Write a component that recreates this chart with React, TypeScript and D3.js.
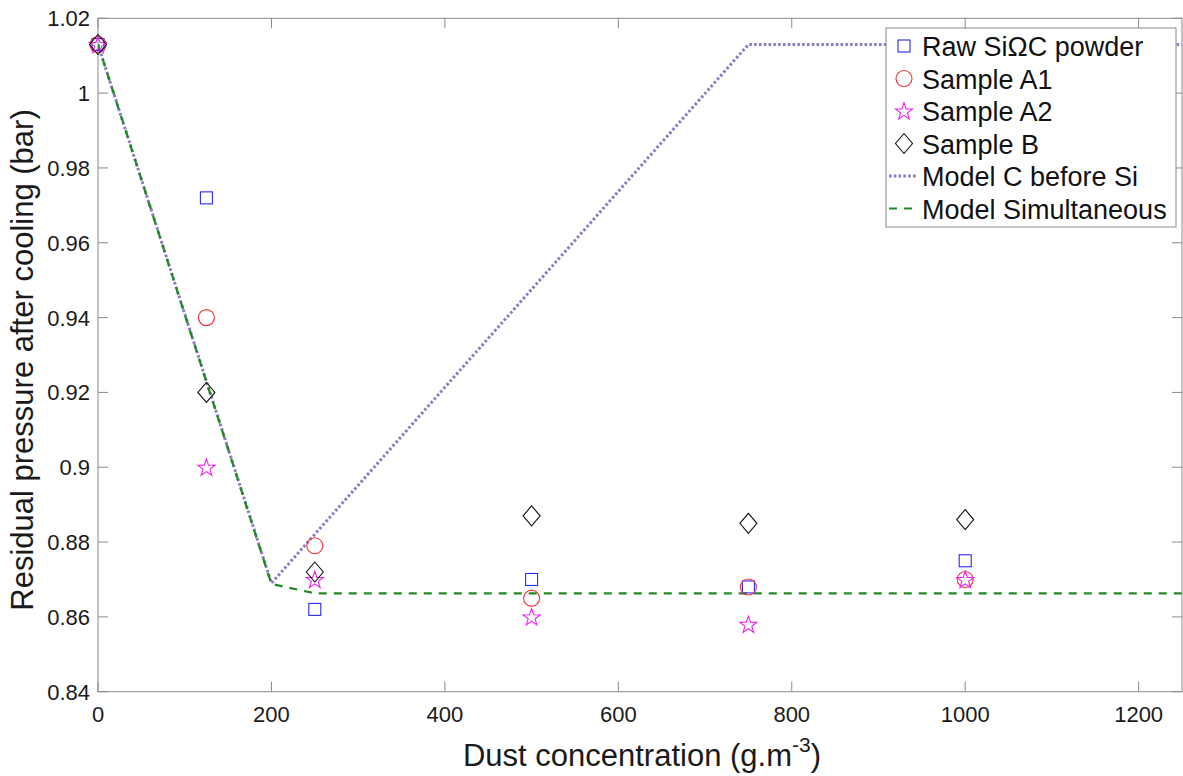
import React from "react";
import * as d3 from "d3";

const xMeasured = [0, 125, 250, 500, 750, 1000];
const rawSiC = [1.013, 0.972, 0.862, 0.870, 0.868, 0.875];
const sampleA1 = [1.013, 0.940, 0.879, 0.865, 0.868, 0.870];
const sampleA2 = [1.013, 0.900, 0.870, 0.860, 0.858, 0.870];
const sampleB = [1.013, 0.920, 0.872, 0.887, 0.885, 0.886];

const modelCX = [0, 200, 750, 1250];
const modelCY = [1.013, 0.869, 1.013, 1.013];
const modelSimX = [0, 200, 250, 1250];
const modelSimY = [1.013, 0.8688, 0.8663, 0.8663];

const xTicks = [0, 200, 400, 600, 800, 1000, 1200];
const yTicks = [0.84, 0.86, 0.88, 0.9, 0.92, 0.94, 0.96, 0.98, 1, 1.02];
const yTickLabels = ["0.84", "0.86", "0.88", "0.9", "0.92", "0.94", "0.96", "0.98", "1", "1.02"];

const legendLabels = [
  "Raw SiΩC powder",
  "Sample A1",
  "Sample A2",
  "Sample B",
  "Model C before Si",
  "Model Simultaneous",
];

const W = 1183;
const H = 776;
const left = 98;
const right = 1182;
const top = 18.3;
const bottom = 691.7;
const FONT = "'Liberation Sans', Arial, Helvetica, sans-serif";
const AXIS = "#8a8a8a";
const PURPLE = "#8a7cc6";
const GREEN = "#1f8a1f";

const x = d3.scaleLinear().domain([0, 1250]).range([left, right]);
const y = d3.scaleLinear().domain([0.84, 1.02]).range([bottom, top]);

function starPath(cx: number, cy: number, R: number, r: number) {
  const pts: string[] = [];
  for (let i = 0; i < 10; i++) {
    const rad = i % 2 === 0 ? R : r;
    const a = -Math.PI / 2 + (i * Math.PI) / 5;
    pts.push(`${cx + rad * Math.cos(a)},${cy + rad * Math.sin(a)}`);
  }
  return "M" + pts.join("L") + "Z";
}

function Square({ cx, cy }: { cx: number; cy: number }) {
  return <rect x={cx - 6} y={cy - 6} width={12} height={12} fill="none" stroke="#2a2af5" strokeWidth={1.1} />;
}
function Circle({ cx, cy }: { cx: number; cy: number }) {
  return <circle cx={cx} cy={cy} r={8} fill="none" stroke="#f0303a" strokeWidth={1.1} />;
}
function Star({ cx, cy }: { cx: number; cy: number }) {
  return <path d={starPath(cx, cy + 0.8, 9, 3.6)} fill="none" stroke="#f020f0" strokeWidth={1.1} />;
}
function Diamond({ cx, cy }: { cx: number; cy: number }) {
  return (
    <path
      d={`M${cx},${cy - 10}L${cx + 8.5},${cy}L${cx},${cy + 10}L${cx - 8.5},${cy}Z`}
      fill="none"
      stroke="#111"
      strokeWidth={1.1}
    />
  );
}

export default function App() {
  const lineGen = d3
    .line<[number, number]>()
    .x((d) => x(d[0]))
    .y((d) => y(d[1]));
  const modelC = lineGen(modelCX.map((v, i) => [v, modelCY[i]] as [number, number])) || "";
  const modelSim = lineGen(modelSimX.map((v, i) => [v, modelSimY[i]] as [number, number])) || "";

  const legX = 886;
  const legY = 28;
  const legW = 290;
  const legH = 199;
  const rowY = (i: number) => 46 + i * 32.5;

  return (
    <svg
      width={W}
      height={H}
      style={{ position: "absolute", left: 0, top: 0, background: "#fff" }}
      fontFamily={FONT}
    >
      <rect x={0} y={0} width={W} height={H} fill="#fff" />
      <defs>
        <clipPath id="plotclip">
          <rect x={left} y={top} width={right - left} height={bottom - top} />
        </clipPath>
      </defs>

      {/* axes box */}
      <rect x={left} y={top} width={right - left} height={bottom - top} fill="none" stroke={AXIS} strokeWidth={1} />

      {/* x ticks */}
      {xTicks.map((t) => (
        <g key={"xt" + t}>
          <line x1={x(t)} x2={x(t)} y1={bottom} y2={bottom - 10} stroke={AXIS} />
          <line x1={x(t)} x2={x(t)} y1={top} y2={top + 10} stroke={AXIS} />
          <text x={x(t)} y={722} textAnchor="middle" fontSize={22} fill="#1a1a1a">
            {t}
          </text>
        </g>
      ))}

      {/* y ticks */}
      {yTicks.map((t, i) => (
        <g key={"yt" + t}>
          <line x1={left} x2={left + 10} y1={y(t)} y2={y(t)} stroke={AXIS} />
          <line x1={right} x2={right - 10} y1={y(t)} y2={y(t)} stroke={AXIS} />
          <text x={90} y={y(t) + 8} textAnchor="end" fontSize={22} fill="#1a1a1a">
            {yTickLabels[i]}
          </text>
        </g>
      ))}

      {/* axis labels */}
      <text x={642} y={766} textAnchor="middle" fontSize={31} fill="#1a1a1a">
        Dust concentration (g.m
        <tspan fontSize={21} dy={-14}>
          -3
        </tspan>
        <tspan dy={14}>)</tspan>
      </text>
      <text
        transform={`translate(33,${(top + bottom) / 2 + 5}) rotate(-90)`}
        textAnchor="middle"
        fontSize={31}
        fill="#1a1a1a"
      >
        Residual pressure after cooling (bar)
      </text>

      {/* model lines */}
      <g clipPath="url(#plotclip)">
        <path d={modelC} fill="none" stroke={PURPLE} strokeWidth={3} strokeDasharray="2.6,2.2" />
        <path d={modelSim} fill="none" stroke={GREEN} strokeWidth={2.2} strokeDasharray="8,7" />
      </g>

      {/* markers */}
      {xMeasured.map((v, i) => (
        <Square key={"s" + i} cx={x(v)} cy={y(rawSiC[i])} />
      ))}
      {xMeasured.map((v, i) => (
        <Circle key={"c" + i} cx={x(v)} cy={y(sampleA1[i])} />
      ))}
      {xMeasured.map((v, i) => (
        <Star key={"st" + i} cx={x(v)} cy={y(sampleA2[i])} />
      ))}
      {xMeasured.map((v, i) => (
        <Diamond key={"d" + i} cx={x(v)} cy={y(sampleB[i])} />
      ))}

      {/* legend */}
      <rect x={legX} y={legY} width={legW} height={legH} fill="#fff" stroke="#8a8a8a" strokeWidth={1} />
      <Square cx={904} cy={rowY(0)} />
      <Circle cx={904} cy={rowY(1)} />
      <Star cx={904} cy={rowY(2)} />
      <Diamond cx={904} cy={rowY(3)} />
      <line x1={889} x2={917} y1={rowY(4)} y2={rowY(4)} stroke={PURPLE} strokeWidth={3} strokeDasharray="2.6,2.2" />
      <line x1={889} x2={917} y1={rowY(5)} y2={rowY(5)} stroke={GREEN} strokeWidth={2.2} strokeDasharray="8,7" />
      {legendLabels.map((l, i) => (
        <text key={l} x={922} y={rowY(i) + 10} fontSize={27} fill="#111">
          {l}
        </text>
      ))}
    </svg>
  );
}
